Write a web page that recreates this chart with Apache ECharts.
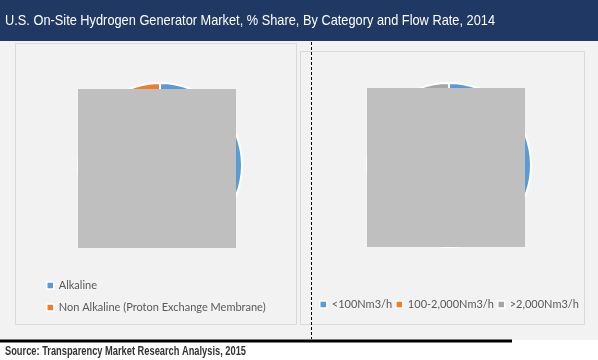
<!DOCTYPE html>
<html><head><meta charset="utf-8">
<script src="https://cdn.jsdelivr.net/npm/echarts@6/dist/echarts.min.js"></script>
<style>html,body{margin:0;padding:0;background:#fff}#c{width:598px;height:360px}</style>
</head><body><div id="c"></div>
<script>
var titleText = 'U.S. On-Site Hydrogen Generator Market, % Share, By Category and Flow Rate, 2014';
var sourceText = 'Source: Transparency Market Research Analysis, 2015';
var categoryNames = ['Alkaline', 'Non Alkaline (Proton Exchange Membrane)'];
var categoryShare = [93, 7];
var flowNames = ['<100Nm3/h', '100-2,000Nm3/h', '>2,000Nm3/h'];
var flowShare = [47, 30, 23];
var colors = ['#5B9BD5', '#ED7D31', '#A5A5A5'];

function toData(names, vals){ return names.map(function(n,i){return {name:n, value:vals[i], itemStyle:{color:colors[i]}};}); }

var mc = document.createElement('canvas').getContext('2d');
function fitScale(font, text, target){ mc.font = font; return target / mc.measureText(text).width; }
var titleFont = '15px "Liberation Sans", Arial';
var sourceFont = 'bold 12px "Liberation Sans", Arial';
var titleScale = fitScale(titleFont, titleText, 490);
var sourceScale = fitScale(sourceFont, sourceText, 241);

var chart = echarts.init(document.getElementById('c'), null, {renderer:'canvas'});
chart.setOption({
  animation:false,
  legend:[
    { data:categoryNames, orient:'vertical', left:41, top:275, itemGap:11,
      icon:'rect', itemWidth:7, itemHeight:7,
      itemStyle:{borderColor:'#fff', borderWidth:1.5},
      textStyle:{color:'#595959', fontFamily:'Lato', fontSize:11} },
    { data:flowNames, orient:'horizontal', left:314, top:294, itemGap:3,
      icon:'rect', itemWidth:7, itemHeight:7,
      itemStyle:{borderColor:'#fff', borderWidth:1.5},
      textStyle:{color:'#595959', fontFamily:'Lato', fontSize:11} }
  ],
  graphic:[
    {type:'rect', z:-10, silent:true, shape:{x:0,y:41,width:598,height:299}, style:{fill:'#F2F2F2'}},
    {type:'rect', z:-9, silent:true, shape:{x:0,y:0,width:598,height:41}, style:{fill:'#203864'}},
    {type:'text', z:5, silent:true, x:5, y:21, scaleX:titleScale, style:{text:titleText, fill:'#fff', font:titleFont, textVerticalAlign:'middle'}},
    {type:'rect', z:-8, silent:true, shape:{x:15.5,y:43.5,width:281,height:281}, style:{fill:'#F2F2F2', stroke:'#D9D9D9', lineWidth:1}},
    {type:'rect', z:-8, silent:true, shape:{x:300.5,y:51.5,width:284,height:273}, style:{fill:'#F2F2F2', stroke:'#D9D9D9', lineWidth:1}},
    {type:'line', z:5, silent:true, shape:{x1:311.5,y1:42,x2:311.5,y2:339}, style:{stroke:'#000', lineWidth:1, lineDash:[3,2]}},
    {type:'rect', z:100, silent:true, shape:{x:78,y:89,width:158,height:159}, style:{fill:'#BFBFBF'}},
    {type:'rect', z:100, silent:true, shape:{x:367,y:88,width:158,height:159}, style:{fill:'#BFBFBF'}},
    {type:'rect', z:5, silent:true, shape:{x:0,y:339.5,width:512,height:3}, style:{fill:'#000'}},
    {type:'text', z:5, silent:true, x:5, y:352, scaleX:sourceScale, style:{text:sourceText, fill:'#333', font:sourceFont, textVerticalAlign:'middle'}}
  ],
  series:[
    { type:'pie', center:[160,165], radius:82, startAngle:90, label:{show:false}, labelLine:{show:false},
      itemStyle:{borderColor:'#fff', borderWidth:2}, emphasis:{disabled:true},
      data: toData(categoryNames, categoryShare) },
    { type:'pie', center:[449,165], radius:82, startAngle:90, label:{show:false}, labelLine:{show:false},
      itemStyle:{borderColor:'#fff', borderWidth:2}, emphasis:{disabled:true},
      data: toData(flowNames, flowShare) }
  ]
});
</script></body></html>
